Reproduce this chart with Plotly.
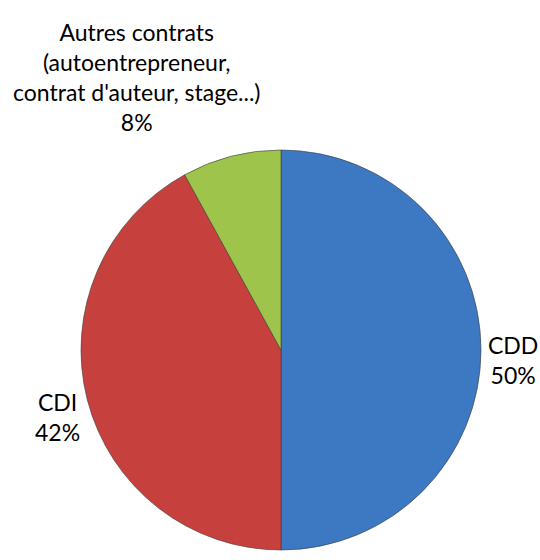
import plotly.graph_objects as go

labels = ["CDD", "CDI", "Autres contrats<br>(autoentrepreneur,<br>contrat d'auteur, stage...)"]
values = [50, 42, 8]
colors = ["#3D78C3", "#C6413E", "#9FC44B"]

total = sum(values)
pct = [f"{round(v / total * 100)}%" for v in values]

W, H = 540, 560

fig = go.Figure(go.Pie(
    labels=labels,
    values=values,
    sort=False,
    direction="clockwise",
    rotation=0,
    textinfo="none",
    hoverinfo="label+percent",
    marker=dict(colors=colors, line=dict(color="#3a3a3a", width=0.6)),
    domain=dict(x=[81 / W, 481 / W], y=[(H - 552) / H, (H - 148) / H]),
    showlegend=False,
))

font = dict(family="Lato, Carlito, Calibri, sans-serif", size=23, color="#000000")
ann_pos = [(513, 360), (57, 417), (137, 77)]
for lab, p, (x, y) in zip(labels, pct, ann_pos):
    fig.add_annotation(
        x=x / W, y=1 - y / H, xref="paper", yref="paper",
        text=f"{lab}<br>{p}", showarrow=False, font=font,
        xanchor="center", yanchor="middle", align="center",
    )

fig.update_layout(
    width=W, height=H,
    margin=dict(l=0, r=0, t=0, b=0),
    paper_bgcolor="white", plot_bgcolor="white",
)

fig.write_html(
    "out.html",
    config={"displayModeBar": False},
    post_script="document.body.style.margin='0';document.body.style.overflow='hidden';",
)
